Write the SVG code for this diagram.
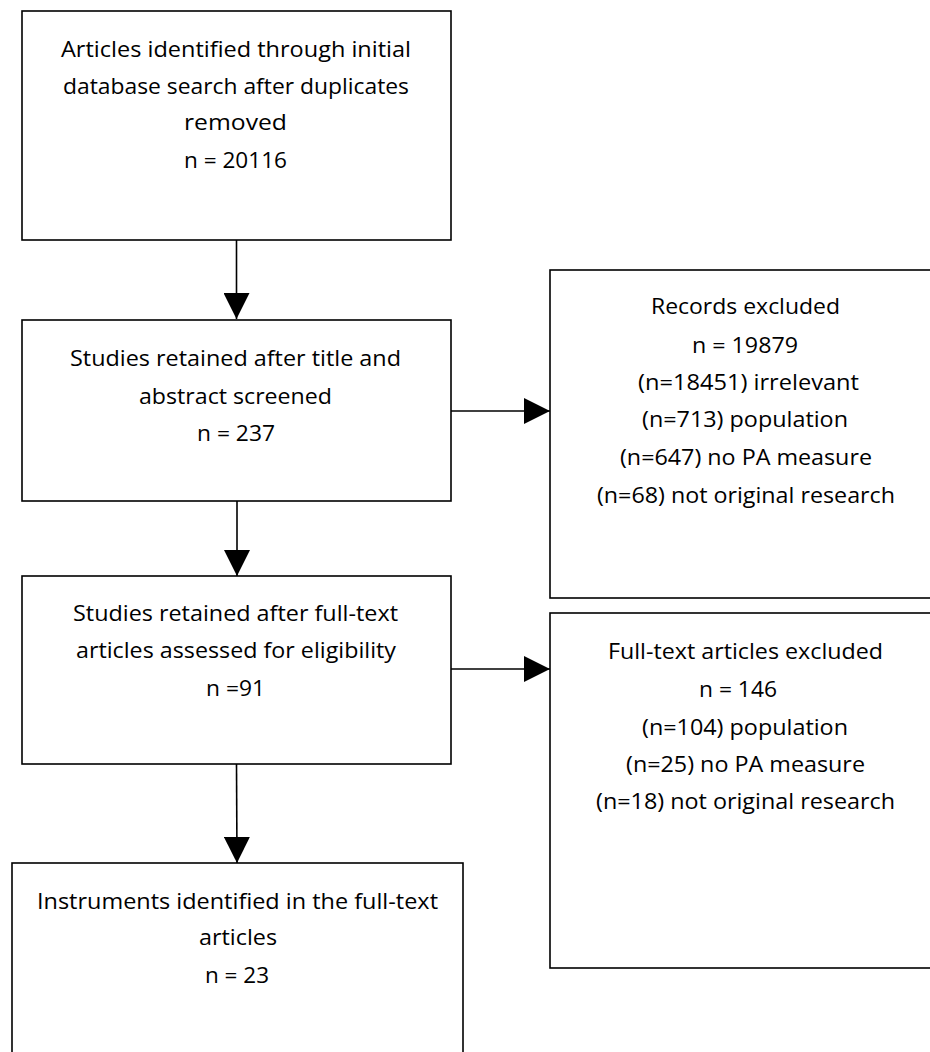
<svg xmlns="http://www.w3.org/2000/svg" width="930" height="1052" viewBox="0 0 930 1052">
<style>
.box{fill:#fff;stroke:#000;stroke-width:1.6}
.t{font-family:"Open Sans","Noto Sans","Liberation Sans",sans-serif;font-size:21px;fill:#000}
.c{stroke:#000;stroke-width:1.6;fill:none}
</style>
<defs>
<marker id="ah" viewBox="0 0 26 26" refX="26" refY="13" markerWidth="26" markerHeight="26" markerUnits="userSpaceOnUse" orient="auto">
<path d="M0,0 L26,13 L0,26 z" fill="#000"/>
</marker>
</defs>
<rect width="930" height="1052" fill="#fff"/>
<g id="connectors">
<line class="c" x1="236.5" y1="240" x2="236.5" y2="319" marker-end="url(#ah)"/>
<line class="c" x1="237" y1="501" x2="237" y2="576" marker-end="url(#ah)"/>
<line class="c" x1="236.5" y1="764" x2="237" y2="863" marker-end="url(#ah)"/>
<line class="c" x1="451" y1="411" x2="550" y2="411" marker-end="url(#ah)"/>
<line class="c" x1="451" y1="669" x2="550" y2="669" marker-end="url(#ah)"/>
</g>
<g id="n1">
<rect class="box" x="22" y="11" width="429" height="229"/>
<text class="t" x="61" y="57" textLength="350" lengthAdjust="spacingAndGlyphs">Articles identified through initial</text>
<text class="t" x="63" y="94" textLength="346" lengthAdjust="spacingAndGlyphs">database search after duplicates</text>
<text class="t" x="184" y="130" textLength="103" lengthAdjust="spacingAndGlyphs">removed</text>
<text class="t" x="184" y="168" textLength="103" lengthAdjust="spacingAndGlyphs">n = 20116</text>
</g>
<g id="n2">
<rect class="box" x="22" y="320" width="429" height="181"/>
<text class="t" x="70" y="366" textLength="331" lengthAdjust="spacingAndGlyphs">Studies retained after title and</text>
<text class="t" x="139" y="404" textLength="193" lengthAdjust="spacingAndGlyphs">abstract screened</text>
<text class="t" x="197" y="441" textLength="78" lengthAdjust="spacingAndGlyphs">n = 237</text>
</g>
<g id="n3">
<rect class="box" x="550" y="270" width="420" height="328"/>
<text class="t" x="651" y="314" textLength="189" lengthAdjust="spacingAndGlyphs">Records excluded</text>
<text class="t" x="692" y="353" textLength="106" lengthAdjust="spacingAndGlyphs">n = 19879</text>
<text class="t" x="638" y="390" textLength="221" lengthAdjust="spacingAndGlyphs">(n=18451) irrelevant</text>
<text class="t" x="642" y="427" textLength="206" lengthAdjust="spacingAndGlyphs">(n=713) population</text>
<text class="t" x="620" y="465" textLength="252" lengthAdjust="spacingAndGlyphs">(n=647) no PA measure</text>
<text class="t" x="597" y="503" textLength="298" lengthAdjust="spacingAndGlyphs">(n=68) not original research</text>
</g>
<g id="n4">
<rect class="box" x="22" y="576" width="429" height="188"/>
<text class="t" x="73" y="621" textLength="325" lengthAdjust="spacingAndGlyphs">Studies retained after full-text</text>
<text class="t" x="76" y="658" textLength="320" lengthAdjust="spacingAndGlyphs">articles assessed for eligibility</text>
<text class="t" x="206" y="696" textLength="59" lengthAdjust="spacingAndGlyphs">n =91</text>
</g>
<g id="n5">
<rect class="box" x="550" y="613" width="420" height="355"/>
<text class="t" x="608" y="659" textLength="275" lengthAdjust="spacingAndGlyphs">Full-text articles excluded</text>
<text class="t" x="699" y="697" textLength="78" lengthAdjust="spacingAndGlyphs">n = 146</text>
<text class="t" x="642" y="735" textLength="206" lengthAdjust="spacingAndGlyphs">(n=104) population</text>
<text class="t" x="626" y="772" textLength="239" lengthAdjust="spacingAndGlyphs">(n=25) no PA measure</text>
<text class="t" x="596" y="809" textLength="299" lengthAdjust="spacingAndGlyphs">(n=18) not original research</text>
</g>
<g id="n6">
<rect class="box" x="12" y="863" width="451" height="220"/>
<text class="t" x="37" y="909" textLength="401" lengthAdjust="spacingAndGlyphs">Instruments identified in the full-text</text>
<text class="t" x="199" y="945" textLength="78" lengthAdjust="spacingAndGlyphs">articles</text>
<text class="t" x="205" y="983" textLength="64" lengthAdjust="spacingAndGlyphs">n = 23</text>
</g>
</svg>
